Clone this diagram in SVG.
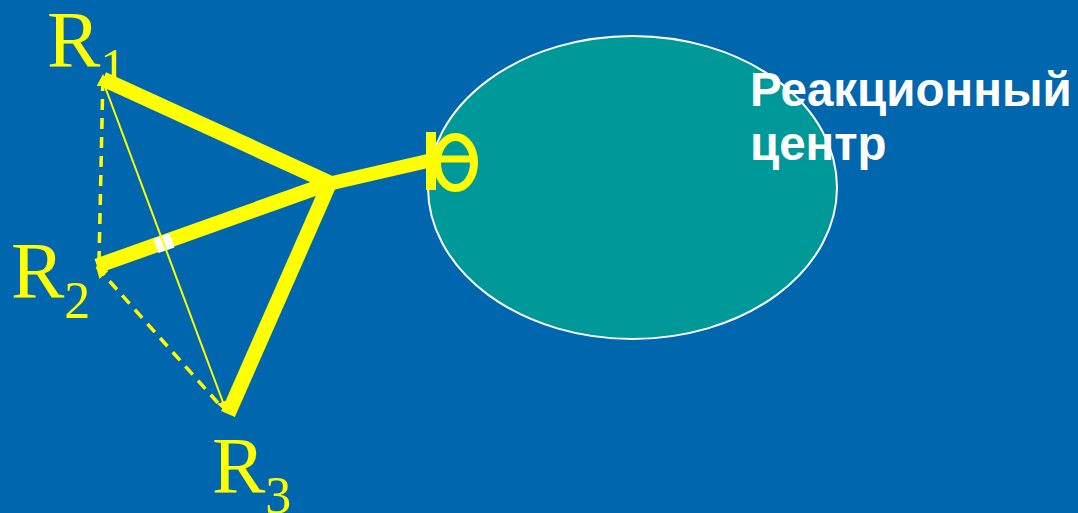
<svg xmlns="http://www.w3.org/2000/svg" width="1078" height="513" viewBox="0 0 1078 513">
<defs>
<style>
.bg{fill:#0066AE}
.rc{fill:#009999;stroke:#FFFFFF;stroke-width:2}
.rod{stroke:#FFFF00;stroke-width:15;stroke-linecap:butt;fill:none}
.thin{stroke:#FFFF00;stroke-width:2;fill:none}
.dash{stroke:#FFFF00;stroke-width:3.5;stroke-dasharray:11 8;fill:none}
.lbl{font-family:"Liberation Serif","Times New Roman",serif;font-size:80px;fill:#FFFF00}
.sub{font-size:52px}
.title{font-family:"Liberation Sans",Arial,sans-serif;font-weight:bold;font-size:47.5px;fill:#FFFFFF}
</style>
<marker id="ah" markerUnits="userSpaceOnUse" markerWidth="14" markerHeight="12" refX="12" refY="6" orient="auto">
<path d="M0,0 L12,6 L0,12 Z" fill="#FFFF00"/>
</marker>
</defs>
<rect class="bg" x="0" y="0" width="1078" height="513"/>
<g id="reaction-center">
<ellipse class="rc" cx="632.5" cy="187.5" rx="204.5" ry="151.5"/>
<text class="title" x="750" y="106">Реакционный</text>
<text class="title" x="750" y="160">центр</text>
</g>
<g id="connectors">
<line class="dash" x1="99" y1="262" x2="103" y2="74" marker-end="url(#ah)"/>
<line class="dash" x1="218" y1="403" x2="96" y2="266" marker-end="url(#ah)"/>
<line class="rod" x1="103" y1="79" x2="330" y2="183"/>
<line class="rod" x1="97" y1="266" x2="330" y2="183"/>
<line class="rod" x1="331" y1="180" x2="228" y2="414"/>
<line class="rod" x1="328" y1="184" x2="432" y2="160" style="stroke-width:14"/>
<line x1="156" y1="246" x2="172" y2="240.5" stroke="#FFFFFF" stroke-width="15"/>
<line class="thin" x1="104" y1="84" x2="227" y2="413" marker-end="url(#ah)"/>
</g>
<g id="anchor">
<rect x="426" y="132" width="10" height="58" fill="#FFFF00"/>
<ellipse cx="455.5" cy="162.5" rx="18.5" ry="25.5" fill="none" stroke="#FFFF00" stroke-width="8"/>
<line x1="433" y1="159" x2="476" y2="159" stroke="#FFFF00" stroke-width="7"/>
</g>
<g id="R1"><text class="lbl" x="47" y="67">R<tspan class="sub" dy="18">1</tspan></text></g>
<g id="R2"><text class="lbl" x="11" y="298">R<tspan class="sub" dy="20">2</tspan></text></g>
<g id="R3"><text class="lbl" x="212" y="493">R<tspan class="sub" dy="20">3</tspan></text></g>
</svg>
